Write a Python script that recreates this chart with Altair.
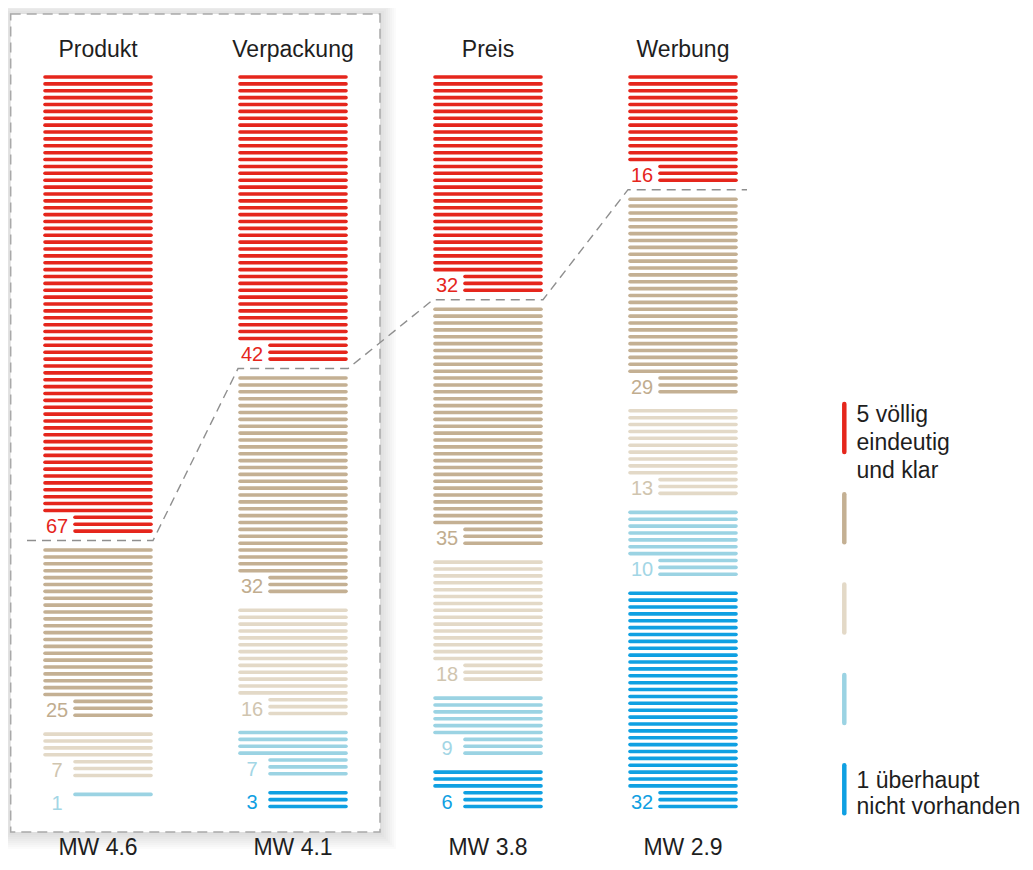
import altair as alt
import pandas as pd

# ---------------- data ----------------
columns = ["Produkt", "Verpackung", "Preis", "Werbung"]
mean_values = ["4.6", "4.1", "3.8", "2.9"]
levels = [5, 4, 3, 2, 1]
level_5 = [67, 42, 32, 16]
level_4 = [25, 32, 35, 29]
level_3 = [7, 16, 18, 13]
level_2 = [1, 7, 9, 10]
level_1 = [0, 3, 6, 32]
legend_5_text = ["5 völlig", "eindeutig", "und klar"]
legend_1_text = ["1 überhaupt", "nicht vorhanden"]

counts = {5: level_5, 4: level_4, 3: level_3, 2: level_2, 1: level_1}

# ---------------- styles ----------------
line_colors = {5: "#E5261C", 4: "#C4B093", 3: "#E3D9C7", 2: "#9BD3E3", 1: "#0FA0E2"}
label_colors = {5: "#E5261C", 4: "#C1AD8F", 3: "#D0C5AF", 2: "#A3D6E5", 1: "#0FA0E2"}
FONT = "Liberation Sans"
TEXT_COLOR = "#1e1e1e"

# ---------------- layout ----------------
W, H = 1017, 854
SLOT_PX = 6.88          # vertical distance between two lines
GAP = 12.1 / SLOT_PX    # extra gap between groups, in slots
COL_PX = 195            # distance between column centres
X0_PX = 90              # centre of first column (plot px)
Y0_PX = 69              # first line (plot px)


def xu(px):
    return px / COL_PX


def ax(px):
    return (px - X0_PX) / COL_PX


def ay(px):
    return (px - Y0_PX) / SLOT_PX


xs = alt.Scale(domain=[ax(0), ax(W)], nice=False, zero=False)
ys = alt.Scale(domain=[ay(0), ay(H)], nice=False, zero=False, reverse=True)

# ---------------- build tables ----------------
line_rows, label_rows, conn_rows = [], [], []
for c, col in enumerate(columns):
    k = 0
    for g, lvl in enumerate(levels):
        n = counts[lvl][c]
        start = k + g * GAP
        for i in range(n):
            short = i >= n - min(n, 3)
            line_rows.append({
                "x0": c + xu(-23 if short else -53),
                "x1": c + xu(53),
                "pos": start + i,
                "color": line_colors[lvl],
            })
        if n > 0:
            label_rows.append({
                "x": c + xu(-41),
                "pos": start + max(n, 3) - 1,
                "text": str(n),
                "color": label_colors[lvl],
            })
        if lvl == 5:
            b = start + n - 1 + (1 + GAP) / 2
            left = -71 if c == 0 else -55
            right = 64 if c == len(columns) - 1 else 55
            conn_rows.append({"x": c + xu(left), "pos": b, "o": 2 * c})
            conn_rows.append({"x": c + xu(right), "pos": b, "o": 2 * c + 1})
        k += n

lines = pd.DataFrame(line_rows)
labels = pd.DataFrame(label_rows)
conn = pd.DataFrame(conn_rows)

titles = pd.DataFrame({"x": list(range(len(columns))), "text": columns})
titles["pos"] = ay(49)
mws = pd.DataFrame({"x": list(range(len(columns))), "text": ["MW " + m for m in mean_values]})
mws["pos"] = ay(847)

# box around first two columns (with soft shadow)
box_rows = []
for e in [16, 14, 12, 10, 8, 6, 4, 2]:
    box_rows.append({
        "x0": ax(2.7 - e), "x1": ax(372 + e),
        "y0": ay(6 - e + 1), "y1": ay(824 + e + 1), "e": e,
    })
shadow = pd.DataFrame(box_rows)
box = pd.DataFrame([{"x0": ax(2.7), "x1": ax(372), "y0": ay(6), "y1": ay(824)}])

# legend
leg_bars = pd.DataFrame({
    "color": [line_colors[l] for l in levels],
    "x": ax(836.3),
    "ymid": [ay(420 + 90.3 * i) for i in range(5)],
})
leg_bars["y0"] = leg_bars["ymid"] - 24 / SLOT_PX
leg_bars["y1"] = leg_bars["ymid"] + 24 / SLOT_PX
leg_text = pd.DataFrame({
    "text": legend_5_text + legend_1_text,
    "pos": [ay(p) for p in [413.7, 442.0, 470.3, 780.3, 806.3]],
})
leg_text["x"] = ax(848.5)

# ---------------- layers ----------------
X = lambda f: alt.X(f, scale=xs, axis=None)
Y = lambda f: alt.Y(f, scale=ys, axis=None)

shadow_l = alt.Chart(shadow).mark_rect(color="black", opacity=0.016).encode(
    x=X("x0:Q"), x2="x1:Q", y=Y("y0:Q"), y2="y1:Q")

box_l = alt.Chart(box).mark_rect(
    fill="white", stroke="#a9a9a9", strokeWidth=1.5, strokeDash=[10, 6]
).encode(x=X("x0:Q"), x2="x1:Q", y=Y("y0:Q"), y2="y1:Q")

conn_l = alt.Chart(conn).mark_line(
    color="#8f8f8f", strokeWidth=1.4, strokeDash=[9, 6]
).encode(x=X("x:Q"), y=Y("pos:Q"), order="o:Q")

rules_l = alt.Chart(lines).mark_rule(strokeCap="round", strokeWidth=3.6).encode(
    x=X("x0:Q"), x2="x1:Q", y=Y("pos:Q"), color=alt.Color("color:N", scale=None))

labels_l = alt.Chart(labels).mark_text(
    font=FONT, fontSize=20, align="center", baseline="alphabetic", dy=2
).encode(x=X("x:Q"), y=Y("pos:Q"), text="text:N", color=alt.Color("color:N", scale=None))

titles_l = alt.Chart(titles).mark_text(
    font=FONT, fontSize=23, align="center", baseline="alphabetic", color=TEXT_COLOR
).encode(x=X("x:Q"), y=Y("pos:Q"), text="text:N")

mws_l = alt.Chart(mws).mark_text(
    font=FONT, fontSize=23, align="center", baseline="alphabetic", color=TEXT_COLOR
).encode(x=X("x:Q"), y=Y("pos:Q"), text="text:N")

legbar_l = alt.Chart(leg_bars).mark_rule(strokeCap="round", strokeWidth=4.5).encode(
    x=X("x:Q"), y=Y("y0:Q"), y2="y1:Q", color=alt.Color("color:N", scale=None))

legtext_l = alt.Chart(leg_text).mark_text(
    font=FONT, fontSize=23, align="left", baseline="alphabetic", color=TEXT_COLOR
).encode(x=X("x:Q"), y=Y("pos:Q"), text="text:N")

chart = alt.layer(
    shadow_l, box_l, conn_l, rules_l, labels_l, titles_l, mws_l, legbar_l, legtext_l
).properties(
    width=W, height=H, padding=0,
    autosize=alt.AutoSizeParams(type="none"),
    background="white",
).configure_view(stroke=None)

chart.save("out.html", embed_options={"renderer": "svg", "actions": False})
